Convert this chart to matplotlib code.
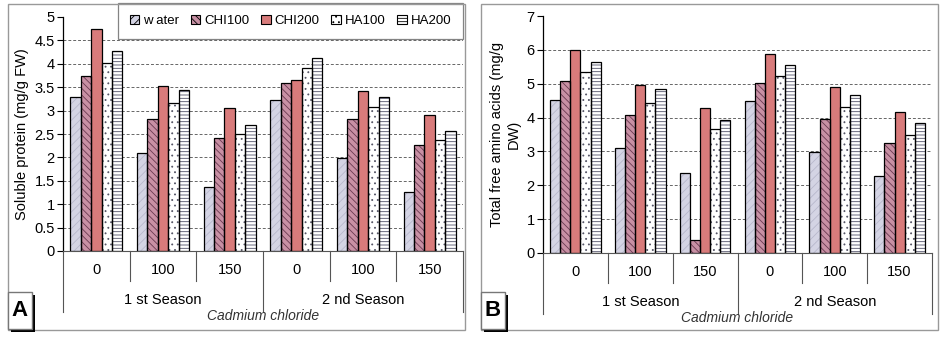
import numpy as np
import matplotlib
matplotlib.use("Agg")
import matplotlib.pyplot as plt
from matplotlib.patches import Rectangle, Patch

plt.rcParams['font.family'] = ['Liberation Sans', 'DejaVu Sans']
plt.rcParams['hatch.linewidth'] = 0.6

# data
groups = ["0", "100", "150", "0", "100", "150"]
seasons = ["1 st Season", "2 nd Season"]
treatments = ["w ater", "CHI100", "CHI200", "HA100", "HA200"]

protein = {
    "water":  [3.30, 2.09, 1.37, 3.23, 1.98, 1.27],
    "CHI100": [3.73, 2.83, 2.41, 3.60, 2.83, 2.27],
    "CHI200": [4.74, 3.52, 3.05, 3.65, 3.42, 2.91],
    "HA100":  [4.02, 3.17, 2.51, 3.90, 3.07, 2.37],
    "HA200":  [4.27, 3.45, 2.69, 4.13, 3.30, 2.57],
}
amino = {
    "water":  [4.52, 3.10, 2.37, 4.50, 2.99, 2.26],
    "CHI100": [5.09, 4.09, 0.37, 5.01, 3.97, 3.25],
    "CHI200": [6.00, 4.97, 4.28, 5.88, 4.90, 4.15],
    "HA100":  [5.34, 4.43, 3.65, 5.22, 4.31, 3.50],
    "HA200":  [5.63, 4.83, 3.92, 5.56, 4.68, 3.84],
}

# face colour, hatch colour, hatch
styles = [
    ("#d4d4e4", "#b8b8cc", "////"),
    ("#c890a4", "#6a3a50", "\\\\\\\\\\"),
    ("#d87b7b", "#d87b7b", None),
    ("#ffffff", "#555566", "..."),
    ("#ffffff", "#505068", "-----"),
]

fig = plt.figure(figsize=(9.44, 3.38), dpi=100)
W, H = 944, 338


def px_axes(l, t, r, b):
    return fig.add_axes([l / W, 1 - b / H, (r - l) / W, (b - t) / H])


def draw_panel(ax, data, ymax, ystep, ylabel, letter, frame, lbox, axh):
    x = np.arange(6) + 0.5
    w = 0.156
    keys = list(data.keys())
    for k, key in enumerate(keys):
        fc, hc, hatch = styles[k]
        xs = x + (k - 2) * w
        ax.bar(xs, data[key], w, color=fc, edgecolor=hc, hatch=hatch,
               linewidth=0, zorder=2)
        ax.bar(xs, data[key], w, fill=False, edgecolor="black",
               linewidth=0.9, zorder=3)
    ax.set_xlim(0, 6)
    ax.set_ylim(0, ymax)
    ticks = np.arange(0, ymax + ystep / 2, ystep)
    ax.set_yticks(ticks)
    ax.set_yticklabels([f"{t:g}" for t in ticks], fontsize=10.5)
    for t in ticks[1:-1]:
        ax.axhline(t, color="#666666", lw=0.7, ls=(0, (3, 2)), zorder=1)
    ax.set_xticks([])
    for s in ["top", "right"]:
        ax.spines[s].set_visible(False)
    ax.spines["left"].set_linewidth(0.9)
    ax.spines["bottom"].set_color("#555555")
    ax.tick_params(axis="y", direction="out", length=4, width=0.8, pad=2)
    ax.set_ylabel(ylabel, fontsize=10.5, labelpad=4, linespacing=1.25)

    tr = ax.get_xaxis_transform()
    def fy(p):
        return -p / axh
    for i in range(7):
        depth = 61 if i in (0, 3, 6) else 30
        ax.plot([i, i], [0, fy(depth)], transform=tr, color="#555555",
                lw=0.8, clip_on=False)
    for i, g in enumerate(groups):
        ax.text(i + 0.5, fy(19), g, transform=tr, ha="center", va="center",
                fontsize=10.5)
    for j, s in enumerate(seasons):
        ax.text(1.5 + 3 * j, fy(49), s, transform=tr, ha="center",
                va="center", fontsize=10.5)
    ax.text(3, fy(65), "Cadmium chloride", transform=tr, ha="center",
            va="center", fontsize=10, style="italic", color="#333333")

    l, t, r, b = frame
    fig.patches.append(Rectangle((l / W, 1 - b / H), (r - l) / W, (b - t) / H,
                                 transform=fig.transFigure, fill=False,
                                 edgecolor="#999999", lw=1.0, zorder=0))
    l, t, r, b = lbox
    fig.patches.append(Rectangle((l / W, 1 - b / H), (r - l) / W, (b - t) / H,
                                 transform=fig.transFigure, facecolor="white",
                                 edgecolor="#777777", lw=1.0, zorder=5))
    fig.patches.append(Rectangle(((l + 3) / W, 1 - (b + 3) / H), (r - l) / W,
                                 (b - t) / H, transform=fig.transFigure,
                                 facecolor="black", edgecolor="none", zorder=4))
    fig.text((l + r) / 2 / W, 1 - (t + b) / 2 / H, letter, ha="center",
             va="center", fontsize=16, fontweight="bold", zorder=6)


axA = px_axes(63, 17, 463, 251)
draw_panel(axA, protein, 5, 0.5, "Soluble protein (mg/g FW)", "A",
           (8, 4, 465, 330), (8, 292, 32, 329), 234)

axB = px_axes(543, 16, 932, 253)
draw_panel(axB, amino, 7, 1, "Total free amino acids (mg/g\nDW)", "B",
           (481, 4, 938, 330), (481, 292, 505, 329), 237)

handles = []
for k, name in enumerate(treatments):
    fc, hc, hatch = styles[k]
    handles.append(Patch(facecolor=fc, edgecolor="black", hatch=hatch,
                         linewidth=0.8, label=name))
leg = axA.legend(handles=handles, ncol=5, loc="upper right",
                 bbox_to_anchor=(463 / W, 1 - 3 / H),
                 bbox_transform=fig.transFigure, fontsize=9.5,
                 handlelength=0.7, handleheight=0.7, handletextpad=0.3,
                 columnspacing=0.9, frameon=True, fancybox=False,
                 borderpad=0.9, borderaxespad=0)
leg.get_frame().set_edgecolor("#666666")
leg.get_frame().set_linewidth(0.9)

fig.savefig("out.png", dpi=100)
